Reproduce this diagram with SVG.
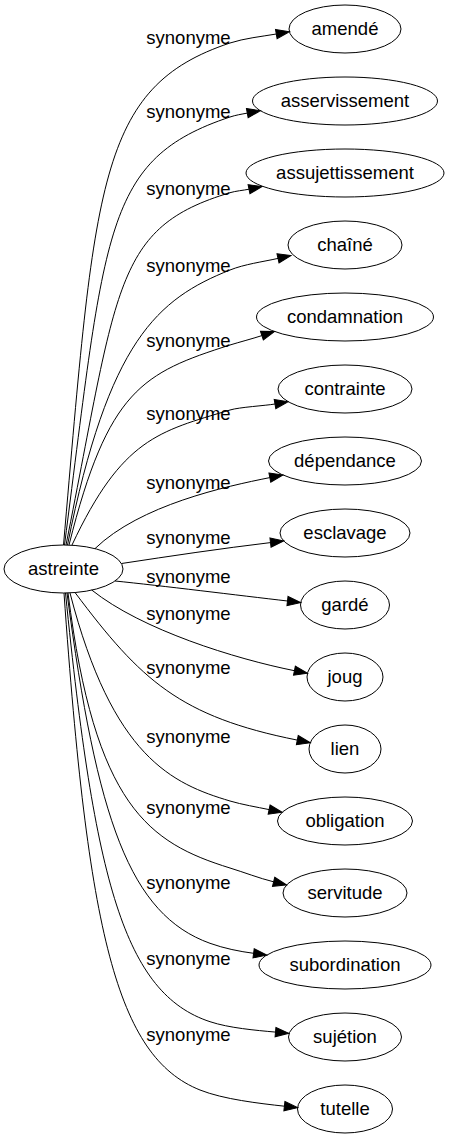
<svg xmlns="http://www.w3.org/2000/svg" width="449" height="1139" viewBox="0 0 449 1139">
<style>
.n ellipse{fill:none;stroke:#000;stroke-width:1}
text{font-family:"Liberation Sans",Arial,sans-serif;font-size:18.5px;fill:#000}
.n text{text-anchor:middle}
.lb text{text-anchor:middle}
.e path{fill:none;stroke:#000;stroke-width:1;marker-end:url(#arr)}
</style>
<defs>
<marker id="arr" markerUnits="userSpaceOnUse" viewBox="-1 -6 16 12" refX="0" refY="0" markerWidth="16" markerHeight="12" orient="auto" overflow="visible">
<path d="M0,-4.67 L13.3,0 L0,4.67 Z" fill="#000" stroke="#000" stroke-width="1"/>
</marker>
</defs>
<rect width="449" height="1139" fill="#fff"/>
<g id="edges" class="e">
<path d="M63.5,545 C95,183.5 97.5,87 230,43 C244.2,38.3 261.5,36.55 276.3,34"/>
<path d="M64.5,545 C105.6,228.2 103.7,159.1 230,117 C235.7,115.1 241.4,114.2 247.3,113.1"/>
<path d="M66,545 C118.1,284.7 113.9,227.5 230,192.7 C236,190.9 243.1,190.4 249,189.2"/>
<path d="M67.5,545 C108.5,340.1 157.7,298.9 230,270 C244.8,264.1 262.4,261.9 278,258.4"/>
<path d="M69,545 C108,389.2 143,372.8 230,345 C240,341.9 251.8,338.9 261.9,335.6"/>
<path d="M72,545 C122.1,438.4 158.6,431.4 230,410 C239.6,407.1 265.2,405.7 275,404"/>
<path d="M95,548.6 C140,505 225.7,486.4 269.85,477.6"/>
<path d="M121.5,563.5 C171,556 220.9,548.5 270.5,542.6"/>
<path d="M115,581 C159.8,585.5 239.8,595.5 287.5,601"/>
<path d="M91.7,590 C141.7,630 235.6,658.9 294.45,670.7"/>
<path d="M75,592.5 C141,680.5 179.7,716.6 297.3,740.1"/>
<path d="M70,593 C112.5,757.6 172.5,783.8 230,801 C242,804.6 257.1,807.1 269.1,809.6"/>
<path d="M68,593 C94.9,806.6 148.8,842.8 230,868 C244.3,872.4 259,878.2 273.6,881.8"/>
<path d="M67,593 C96.9,820.7 130,914.5 210,943.3 C224.1,948.4 239.7,951.5 253.6,953.3"/>
<path d="M65.5,593 C94.5,881.6 124.5,993.5 210,1021.7 C229,1028 255.6,1030.3 275.5,1032.1"/>
<path d="M64,593 C87.8,932.2 116.5,1056.6 200,1090 C223.2,1099.3 259.5,1103.45 284.4,1106.2"/>
</g>
<g id="edge-labels" class="lb">
<text x="188.5" y="44">synonyme</text>
<text x="188.5" y="118.3">synonyme</text>
<text x="188.5" y="195">synonyme</text>
<text x="188.5" y="272">synonyme</text>
<text x="188.5" y="347.3">synonyme</text>
<text x="188.5" y="420">synonyme</text>
<text x="188.5" y="489">synonyme</text>
<text x="188.5" y="544">synonyme</text>
<text x="188.5" y="582.5">synonyme</text>
<text x="188.5" y="620">synonyme</text>
<text x="188.5" y="674.3">synonyme</text>
<text x="188.5" y="742.5">synonyme</text>
<text x="188.5" y="814.2">synonyme</text>
<text x="188.5" y="889.3">synonyme</text>
<text x="188.5" y="965">synonyme</text>
<text x="188.5" y="1041">synonyme</text>
</g>
<g id="node-astreinte" class="n"><ellipse cx="63.5" cy="569" rx="59.5" ry="24"/><text x="63.5" y="575">astreinte</text></g>
<g id="node-amende" class="n"><ellipse cx="345" cy="29" rx="56" ry="24"/><text x="345" y="35">amendé</text></g>
<g id="node-asservissement" class="n"><ellipse cx="345" cy="101" rx="92.5" ry="24"/><text x="345" y="107">asservissement</text></g>
<g id="node-assujettissement" class="n"><ellipse cx="345" cy="173" rx="99" ry="24"/><text x="345" y="179">assujettissement</text></g>
<g id="node-chaine" class="n"><ellipse cx="345" cy="245" rx="57" ry="24"/><text x="345" y="251">chaîné</text></g>
<g id="node-condamnation" class="n"><ellipse cx="345" cy="317" rx="88.5" ry="24"/><text x="345" y="323">condamnation</text></g>
<g id="node-contrainte" class="n"><ellipse cx="345" cy="389" rx="67" ry="24"/><text x="345" y="395">contrainte</text></g>
<g id="node-dependance" class="n"><ellipse cx="345" cy="461" rx="76.5" ry="24"/><text x="345" y="467">dépendance</text></g>
<g id="node-esclavage" class="n"><ellipse cx="345" cy="533" rx="65" ry="24"/><text x="345" y="539">esclavage</text></g>
<g id="node-garde" class="n"><ellipse cx="345" cy="605" rx="44.5" ry="24"/><text x="345" y="611">gardé</text></g>
<g id="node-joug" class="n"><ellipse cx="345" cy="677" rx="38" ry="24"/><text x="345" y="683">joug</text></g>
<g id="node-lien" class="n"><ellipse cx="345" cy="749" rx="36" ry="24"/><text x="345" y="755">lien</text></g>
<g id="node-obligation" class="n"><ellipse cx="345" cy="821" rx="67.5" ry="24"/><text x="345" y="827">obligation</text></g>
<g id="node-servitude" class="n"><ellipse cx="345" cy="893" rx="62" ry="24"/><text x="345" y="899">servitude</text></g>
<g id="node-subordination" class="n"><ellipse cx="345" cy="965" rx="86" ry="24"/><text x="345" y="971">subordination</text></g>
<g id="node-sujetion" class="n"><ellipse cx="345" cy="1037" rx="56.5" ry="24"/><text x="345" y="1043">sujétion</text></g>
<g id="node-tutelle" class="n"><ellipse cx="345" cy="1109" rx="47.5" ry="24"/><text x="345" y="1115">tutelle</text></g>
</svg>
